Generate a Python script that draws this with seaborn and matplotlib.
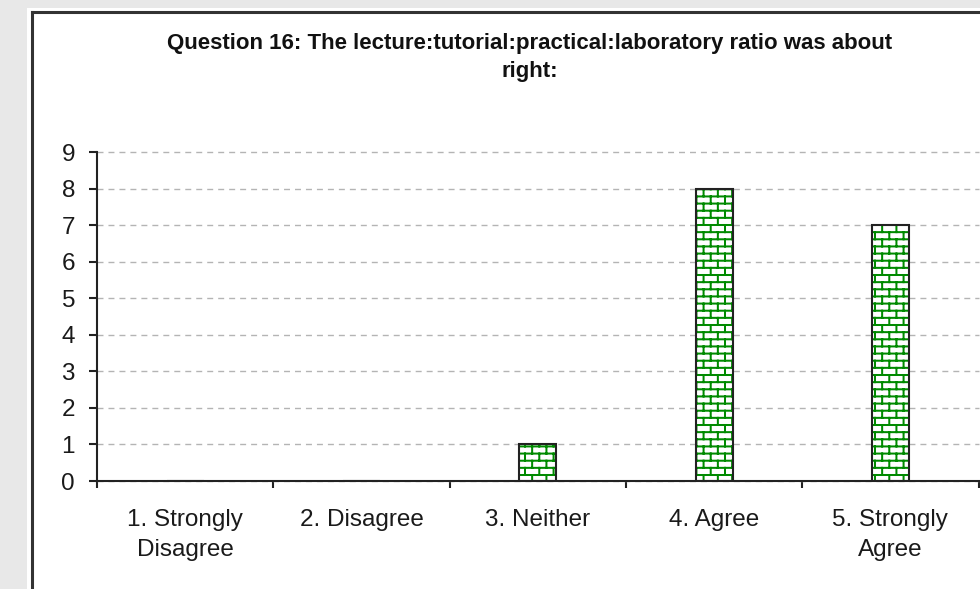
import warnings

import numpy as np
import pandas as pd
import matplotlib
matplotlib.use("Agg")
import matplotlib.pyplot as plt
import matplotlib.hatch as mhatch
from matplotlib.path import Path
from matplotlib.patches import Rectangle
from matplotlib.lines import Line2D
import seaborn as sns

warnings.filterwarnings("ignore")

# ---- data -----------------------------------------------------------------
categories = [
    "1. Strongly\nDisagree",
    "2. Disagree",
    "3. Neither",
    "4. Agree",
    "5. Strongly\nAgree",
]
counts = [0, 0, 1, 8, 7]
y_ticks = list(range(0, 10))
title = ("Question 16: The lecture:tutorial:practical:laboratory ratio was about\n"
         "right:")

GREEN = "#008a00"
DARK = "#222222"


# ---- running-bond brick hatch, selected with the 'b' hatch character -------
class BrickHatch(mhatch.HatchPatternBase):
    ROWS = 14

    def __init__(self, hatch, density):
        segs = []
        n = hatch.count("b")
        if n:
            rows = self.ROWS * n
            cols = rows // 2
            h, w = 1.0 / rows, 1.0 / cols
            for r in range(rows):
                y0 = (r + 0.5) * h
                y1 = y0 + h
                segs.append(((0.0, y0), (1.0, y0)))
                off = w * (0.25 if r % 2 == 0 else 0.75)
                for c in range(cols):
                    x = c * w + off
                    if y1 <= 1.0 + 1e-9:
                        segs.append(((x, y0), (x, y1)))
                    else:
                        segs.append(((x, y0), (x, 1.0)))
                        segs.append(((x, 0.0), (x, y1 - 1.0)))
        self.verts = (np.array(segs, dtype=float).reshape(-1, 2)
                      if segs else np.empty((0, 2)))
        self.num_vertices = len(self.verts)

    def set_vertices_and_codes(self, vertices, codes):
        vertices[:] = self.verts
        codes[0::2] = Path.MOVETO
        codes[1::2] = Path.LINETO


mhatch._hatch_types.append(BrickHatch)

# ---- style ------------------------------------------------------------------
sns.set_theme(style="ticks")
plt.rcParams["font.family"] = ["Liberation Sans", "DejaVu Sans"]
plt.rcParams["hatch.linewidth"] = 1.45

W, H = 980, 589
fig = plt.figure(figsize=(W / 100, H / 100), dpi=100, facecolor="#e8e8e8")

# white chart sheet with its dark frame
fig.add_artist(Rectangle((27 / W, 0), 1, 1 - 8 / H, transform=fig.transFigure,
                         facecolor="white", edgecolor="none", zorder=0))
fig.add_artist(Line2D([31.5 / W, 31.5 / W], [0, 1 - 11.5 / H],
                      transform=fig.transFigure, color="#333333", lw=2.2,
                      solid_capstyle="projecting", zorder=1))
fig.add_artist(Line2D([31.5 / W, 1], [1 - 11.5 / H, 1 - 11.5 / H],
                      transform=fig.transFigure, color="#333333", lw=2.2,
                      solid_capstyle="projecting", zorder=1))

fig.text(530 / W, 1 - 57.5 / H, title, ha="center", va="center",
         fontsize=16, fontweight="bold", color="#111111", linespacing=1.48)

ax = fig.add_axes([97 / W, 1 - 481 / H, (978.5 - 97) / W, (481 - 152) / H])
ax.set_facecolor("none")

df = pd.DataFrame({"response": categories, "count": counts})

# hatched fill
sns.barplot(data=df, x="response", y="count", order=categories, ax=ax,
            color="white", saturation=1, width=0.21, errorbar=None)
n_fill = len(ax.patches)
for p in ax.patches:
    p.set_facecolor("white")
    p.set_hatch("b")
    p.set_edgecolor(GREEN)
    p.set_linewidth(0)

# dark outline on top of each bar
sns.barplot(data=df, x="response", y="count", order=categories, ax=ax,
            color="white", saturation=1, width=0.21, errorbar=None)
for p in ax.patches[n_fill:]:
    p.set_facecolor("none")
    p.set_hatch(None)
    p.set_edgecolor(DARK)
    p.set_linewidth(1.5)

ax.set_xlim(-0.5, len(categories) - 0.5)
ax.set_ylim(0, 9)
ax.set_yticks(y_ticks)
ax.set_xticks(np.arange(-0.5, len(categories), 1.0), minor=True)
ax.set_xlabel("")
ax.set_ylabel("")

ax.tick_params(axis="x", which="major", bottom=False, length=0, pad=20.5,
               labelsize=17.5, labelcolor="#1a1a1a")
ax.tick_params(axis="x", which="minor", bottom=True, length=5.2, width=1.5,
               color=DARK, direction="out")
ax.tick_params(axis="y", which="major", left=True, length=5.8, width=1.5,
               color=DARK, direction="out", pad=10, labelsize=17.5,
               labelcolor="#1a1a1a")
for lbl in ax.get_xticklabels():
    lbl.set_linespacing(1.45)

ax.yaxis.grid(True, color="#b4b4b4", linestyle=(0, (4.3, 3.6)), linewidth=1.0)
ax.xaxis.grid(False)
ax.set_axisbelow(True)
for gl in ax.get_ygridlines():
    gl.set_clip_on(False)

sns.despine(ax=ax)
for side in ("left", "bottom"):
    ax.spines[side].set_color(DARK)
    ax.spines[side].set_linewidth(1.5)

fig.savefig("out.png", dpi=100, facecolor=fig.get_facecolor())
